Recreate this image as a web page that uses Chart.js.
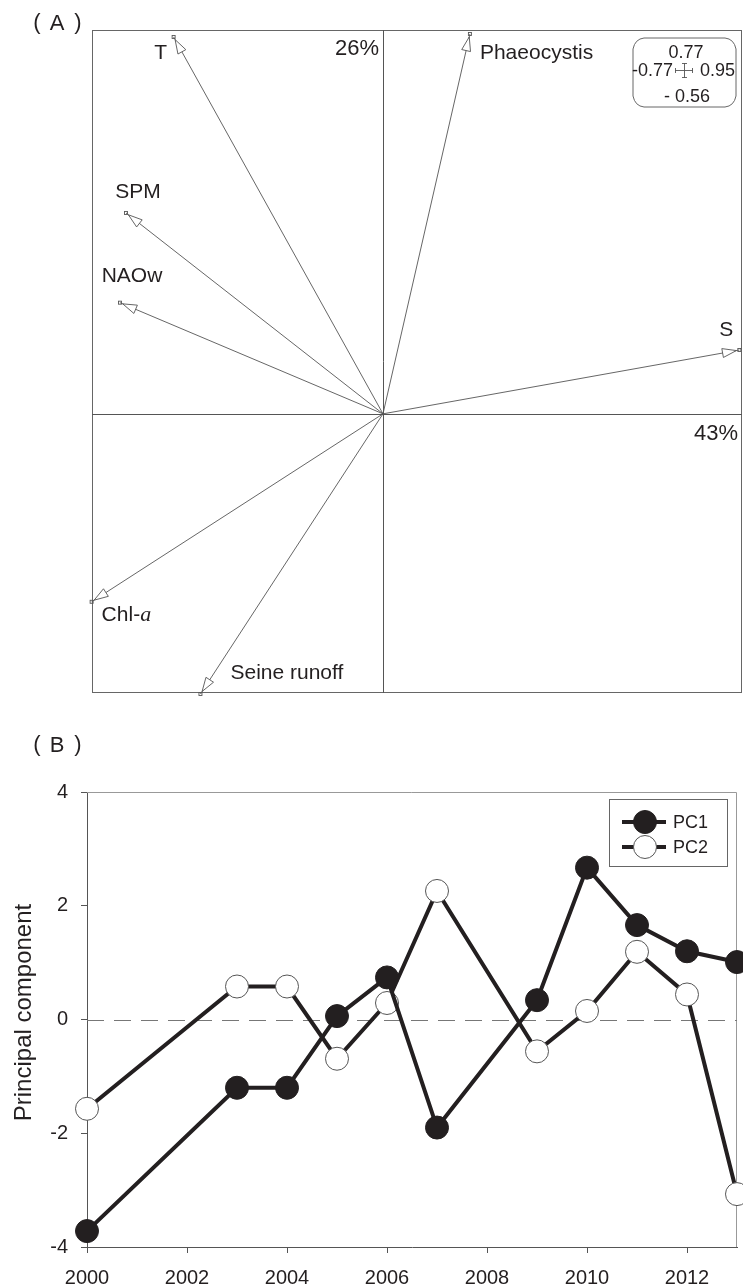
<!DOCTYPE html>
<html><head><meta charset="utf-8">
<script src="https://cdn.jsdelivr.net/npm/chart.js@4.4.1/dist/chart.umd.min.js"></script>
<style>html,body{margin:0;padding:0;background:#fff;}canvas{display:block;}</style>
</head><body>
<canvas id="a" width="743" height="700"></canvas>
<canvas id="b" width="743" height="587"></canvas>
<script>
// ---------- Panel A: PCA loadings ----------
const variables = ['T', 'Phaeocystis', 'SPM', 'NAOw', 'S', 'Chl-a', 'Seine runoff'];
const loadingPC1 = [-0.554, 0.230, -0.680, -0.696, 0.943, -0.771, -0.483];
const loadingPC2 = [0.756, 0.762, 0.403, 0.223, 0.128, -0.377, -0.562];
const rangePC1 = [-0.77, 0.95];
const rangePC2 = [-0.56, 0.77];
const explainedPC1 = '43%';
const explainedPC2 = '26%';

// ---------- Panel B: PC scores ----------
const years = [2000, 2003, 2004, 2005, 2006, 2007, 2009, 2010, 2011, 2012, 2013];
const pc1 = [-3.72, -1.20, -1.20, 0.06, 0.74, -1.90, 0.34, 2.67, 1.66, 1.20, 1.01];
const pc2 = [-1.57, 0.58, 0.58, -0.69, 0.29, 2.26, -0.56, 0.15, 1.19, 0.44, -3.07];
const yearRange = [2000, 2013];
const scoreRange = [-4, 4];

const FONT = '"Liberation Sans", Arial, Helvetica, sans-serif';
const INK = '#231f20';

// label placement (presentation only)
const labelPlacement = {
  'T': {dx: -13, dy: 16, align: 'center'},
  'Phaeocystis': {dx: 10, dy: 19, align: 'left'},
  'SPM': {dx: 12, dy: -21, align: 'center'},
  'NAOw': {dx: 12, dy: -26, align: 'center'},
  'S': {dx: -13, dy: -20, align: 'center'},
  'Chl-a': {dx: 10, dy: 13, align: 'left'},
  'Seine runoff': {dx: 30, dy: -21, align: 'left'}
};

const biplotPlugin = {
  id: 'biplot',
  afterDatasetsDraw(chart) {
    const ctx = chart.ctx, ca = chart.chartArea;
    const xs = chart.scales.x, ys = chart.scales.y;
    const ox = xs.getPixelForValue(0), oy = ys.getPixelForValue(0);
    ctx.save();
    ctx.strokeStyle = '#666'; ctx.lineWidth = 1;
    ctx.strokeRect(ca.left + 0.5, ca.top + 0.5, ca.right - ca.left - 1, ca.bottom - ca.top - 1);
    ctx.strokeStyle = '#555';
    ctx.beginPath();
    ctx.moveTo(ca.left, Math.round(oy) + 0.5); ctx.lineTo(ca.right, Math.round(oy) + 0.5);
    ctx.moveTo(Math.round(ox) + 0.5, ca.top); ctx.lineTo(Math.round(ox) + 0.5, ca.bottom);
    ctx.stroke();

    const meta = chart.getDatasetMeta(0);
    meta.data.forEach((pt, i) => {
      const tx = pt.x, ty = pt.y;
      const ang = Math.atan2(ty - oy, tx - ox);
      const c = Math.cos(ang), s = Math.sin(ang);
      ctx.strokeStyle = '#555'; ctx.lineWidth = 0.9;
      ctx.beginPath(); ctx.moveTo(ox, oy); ctx.lineTo(tx, ty); ctx.stroke();
      // open arrow head
      const ax = tx - 3 * c, ay = ty - 3 * s;
      const bx = tx - 17 * c, by = ty - 17 * s;
      const hw = 4.5;
      ctx.beginPath();
      ctx.moveTo(ax, ay);
      ctx.lineTo(bx - hw * s, by + hw * c);
      ctx.lineTo(bx + hw * s, by - hw * c);
      ctx.closePath();
      ctx.fillStyle = '#fff'; ctx.fill();
      ctx.stroke();
      ctx.strokeRect(tx - 1.5, ty - 1.5, 3, 3);
      // label
      const name = variables[i];
      const lp = labelPlacement[name];
      ctx.fillStyle = INK; ctx.textBaseline = 'middle';
      const lx = tx + lp.dx, ly = ty + lp.dy;
      if (name === 'Chl-a') {
        ctx.font = '21px ' + FONT; ctx.textAlign = 'left';
        ctx.fillText('Chl-', lx, ly);
        const w = ctx.measureText('Chl-').width;
        ctx.font = 'italic 22px "Liberation Serif", "Times New Roman", serif';
        ctx.fillText('a', lx + w, ly);
      } else {
        ctx.font = '21px ' + FONT; ctx.textAlign = lp.align;
        ctx.fillText(name, lx, ly);
      }
    });

    // explained variance
    ctx.font = '22px ' + FONT; ctx.fillStyle = INK; ctx.textAlign = 'right'; ctx.textBaseline = 'middle';
    ctx.fillText(explainedPC2, ox - 4, ca.top + 19);
    ctx.fillText(explainedPC1, ca.right - 4, oy + 20);

    // scale box (top right)
    const L = 633, R = 736, T = 38, B = 107, k = 11;
    ctx.strokeStyle = '#666'; ctx.lineWidth = 1;
    ctx.beginPath();
    ctx.moveTo(L + k, T);
    ctx.lineTo(R - k, T);
    ctx.quadraticCurveTo(R - 2, T + 1, R, T + k);
    ctx.lineTo(R, B - k);
    ctx.quadraticCurveTo(R - 2, B - 1, R - k, B);
    ctx.lineTo(L + k, B);
    ctx.quadraticCurveTo(L + 2, B - 1, L, B - k);
    ctx.lineTo(L, T + k);
    ctx.quadraticCurveTo(L + 2, T + 1, L + k, T);
    ctx.closePath(); ctx.stroke();
    ctx.font = '18px ' + FONT; ctx.fillStyle = INK; ctx.textBaseline = 'middle';
    ctx.textAlign = 'center';
    ctx.fillText(rangePC2[1].toFixed(2), 686, 53);
    ctx.fillText('- ' + Math.abs(rangePC2[0]).toFixed(2), 687, 97);
    ctx.textAlign = 'right';
    ctx.fillText(rangePC1[0].toFixed(2), 673, 71);
    ctx.textAlign = 'left';
    ctx.fillText(rangePC1[1].toFixed(2), 700, 71);
    // small cross
    ctx.strokeStyle = '#555'; ctx.lineWidth = 0.9;
    ctx.beginPath();
    ctx.moveTo(675, 70.5); ctx.lineTo(693, 70.5);
    ctx.moveTo(684.5, 63); ctx.lineTo(684.5, 78);
    ctx.moveTo(675.5, 68); ctx.lineTo(675.5, 73);
    ctx.moveTo(692.5, 68); ctx.lineTo(692.5, 73);
    ctx.moveTo(682, 63.5); ctx.lineTo(687, 63.5);
    ctx.moveTo(682, 77.5); ctx.lineTo(687, 77.5);
    ctx.stroke();

    // panel tag
    ctx.font = '22px ' + FONT; ctx.fillStyle = INK; ctx.textAlign = 'center';
    ctx.fillText('(', 37, 23); ctx.fillText('A', 57, 24); ctx.fillText(')', 78, 23);
    ctx.restore();
  }
};

new Chart(document.getElementById('a'), {
  type: 'scatter',
  data: {
    datasets: [{
      label: 'loadings',
      data: variables.map((v, i) => ({x: loadingPC1[i], y: loadingPC2[i]})),
      pointRadius: 0, showLine: false
    }]
  },
  options: {
    responsive: false, animation: false, devicePixelRatio: 1,
    layout: {padding: {left: 92, top: 30, right: 1, bottom: 7}, autoPadding: false},
    plugins: {legend: {display: false}, tooltip: {enabled: false}},
    scales: {
      x: {type: 'linear', min: rangePC1[0], max: rangePC1[1], display: false},
      y: {type: 'linear', min: rangePC2[0], max: rangePC2[1], display: false}
    }
  },
  plugins: [biplotPlugin]
});

const panelBPlugin = {
  id: 'panelB',
  beforeDatasetsDraw(chart) {
    const ctx = chart.ctx, ca = chart.chartArea;
    const y0 = Math.round(chart.scales.y.getPixelForValue(0)) + 0.5;
    ctx.save();
    ctx.strokeStyle = '#999'; ctx.lineWidth = 1;
    ctx.beginPath();
    ctx.moveTo(ca.left, ca.top + 0.5); ctx.lineTo(ca.right - 0.5, ca.top + 0.5);
    ctx.lineTo(ca.right - 0.5, ca.bottom);
    ctx.stroke();
    ctx.strokeStyle = '#777'; ctx.setLineDash([17, 10]);
    ctx.beginPath(); ctx.moveTo(ca.left, y0); ctx.lineTo(ca.right, y0); ctx.stroke();
    ctx.restore();
  },
  afterDraw(chart) {
    const ctx = chart.ctx, ca = chart.chartArea;
    ctx.save();
    // y title
    ctx.translate(24, (ca.top + ca.bottom) / 2 - 7);
    ctx.rotate(-Math.PI / 2);
    ctx.font = '24px ' + FONT; ctx.fillStyle = INK; ctx.textAlign = 'center'; ctx.textBaseline = 'middle';
    ctx.fillText('Principal component', 0, 0);
    ctx.restore();
    ctx.save();
    // legend
    const bl = ca.right - 128, bt = ca.top + 7, bw = 118, bh = 67;
    ctx.strokeStyle = '#666'; ctx.lineWidth = 1;
    ctx.strokeRect(bl + 0.5, bt + 0.5, bw, bh);
    chart.data.datasets.forEach((ds, i) => {
      const cy = bt + 23 + i * 25, cx = bl + 36;
      ctx.strokeStyle = ds.borderColor; ctx.lineWidth = 4;
      ctx.beginPath(); ctx.moveTo(cx - 23, cy); ctx.lineTo(cx + 21, cy); ctx.stroke();
      ctx.beginPath(); ctx.arc(cx, cy, 11.5, 0, Math.PI * 2);
      ctx.fillStyle = ds.pointBackgroundColor; ctx.fill();
      ctx.lineWidth = 1; ctx.strokeStyle = ds.pointBorderColor; ctx.stroke();
      ctx.font = '18px ' + FONT; ctx.fillStyle = INK; ctx.textAlign = 'left'; ctx.textBaseline = 'middle';
      ctx.fillText(ds.label, bl + 64, cy + 1);
    });
    // panel tag
    ctx.font = '22px ' + FONT; ctx.fillStyle = INK; ctx.textAlign = 'center'; ctx.textBaseline = 'middle';
    ctx.fillText('(', 37, 45); ctx.fillText('B', 57, 46); ctx.fillText(')', 78, 45);
    ctx.restore();
  }
};

new Chart(document.getElementById('b'), {
  type: 'line',
  data: {
    datasets: [
      {label: 'PC1', data: years.map((y, i) => ({x: y, y: pc1[i]})),
       borderColor: INK, borderWidth: 4, tension: 0, clip: false,
       pointRadius: 11.5, pointBackgroundColor: INK, pointBorderColor: INK, pointBorderWidth: 1},
      {label: 'PC2', data: years.map((y, i) => ({x: y, y: pc2[i]})),
       borderColor: INK, borderWidth: 4, tension: 0, clip: false,
       pointRadius: 11.5, pointBackgroundColor: '#ffffff', pointBorderColor: '#555', pointBorderWidth: 1}
    ]
  },
  options: {
    responsive: false, animation: false, devicePixelRatio: 1,
    layout: {padding: {left: 0, top: 92, right: 6, bottom: 0}, autoPadding: false},
    plugins: {legend: {display: false}, tooltip: {enabled: false}},
    scales: {
      x: {
        type: 'linear', min: yearRange[0], max: yearRange[1],
        afterFit(s) { s.height = 40; },
        ticks: {stepSize: 2, includeBounds: false, autoSkip: false, maxRotation: 0,
                callback: v => String(v), color: INK, font: {size: 20, family: FONT}, padding: 13},
        grid: {drawOnChartArea: false, drawTicks: true, tickLength: 6, color: '#555'},
        border: {display: true, color: '#555', width: 1}
      },
      y: {
        type: 'linear', min: scoreRange[0], max: scoreRange[1],
        afterFit(s) { s.width = 87; },
        ticks: {stepSize: 2, color: INK, font: {size: 20, family: FONT}, padding: 13},
        grid: {drawOnChartArea: false, drawTicks: true, tickLength: 6, color: '#555'},
        border: {display: true, color: '#555', width: 1}
      }
    }
  },
  plugins: [panelBPlugin]
});
</script>
</body></html>
